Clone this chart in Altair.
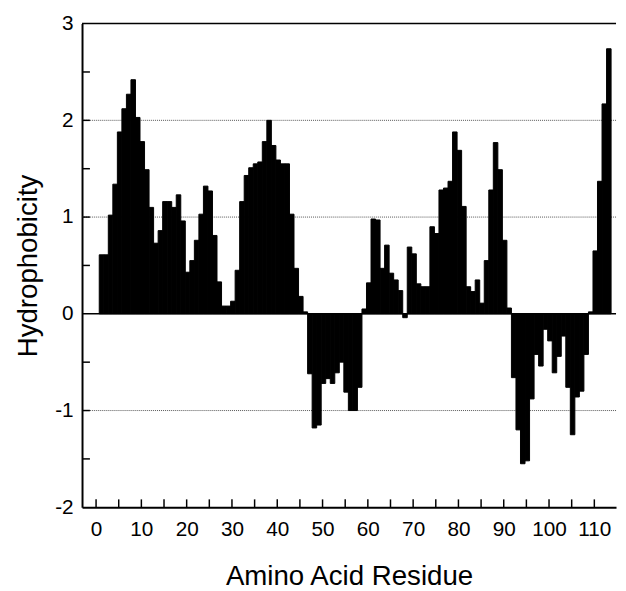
import altair as alt
import pandas as pd

# ---- data ----
residues = list(range(1, 114))
hydrophobicity = [
    0.61, 0.61, 1.02, 1.34, 1.88, 2.12, 2.27, 2.42, 2.03, 1.78,   # 1-10
    1.49, 1.10, 0.73, 0.86, 1.16, 1.16, 1.10, 1.23, 0.96, 0.43,   # 11-20
    0.55, 0.76, 1.03, 1.32, 1.27, 0.81, 0.33, 0.08, 0.08, 0.13,   # 21-30
    0.45, 1.16, 1.43, 1.51, 1.55, 1.57, 1.78, 2.00, 1.74, 1.59,   # 31-40
    1.55, 1.55, 1.03, 0.47, 0.18, 0.02, -0.62, -1.18, -1.15, -0.72,  # 41-50
    -0.67, -0.72, -0.61, -0.50, -0.81, -1.00, -1.00, -0.76, 0.05, 0.32,  # 51-60
    0.98, 0.97, 0.47, 0.71, 0.42, 0.35, 0.24, -0.04, 0.69, 0.62,  # 61-70
    0.31, 0.28, 0.28, 0.90, 0.83, 1.28, 1.30, 1.37, 1.88, 1.69,   # 71-80
    1.11, 0.28, 0.23, 0.35, 0.11, 0.55, 1.28, 1.77, 1.49, 0.76,   # 81-90
    0.06, -0.66, -1.20, -1.55, -1.52, -0.88, -0.42, -0.54, -0.16, -0.28,  # 91-100
    -0.61, -0.44, -0.23, -0.76, -1.25, -0.86, -0.80, -0.42, 0.02, 0.65,  # 101-110
    1.37, 2.17, 2.74,                                              # 111-113
]
x_label_values = list(range(0, 111, 10))
x_tick_values = list(range(0, 111, 5))
y_label_values = [-2, -1, 0, 1, 2, 3]
y_tick_values = [-1.5, -1.0, -0.5, 0.5, 1.0, 1.5, 2.0, 2.5]
grid_values = [-1, 1, 2]

df = pd.DataFrame({"residue": residues, "value": hydrophobicity})
grid_df = pd.DataFrame({"value": grid_values})
ytick_df = pd.DataFrame({"value": y_tick_values})
xtick_df = pd.DataFrame({"x0": x_tick_values})
zero_df = pd.DataFrame({"value": [0]})
top_df = pd.DataFrame({"value": [3]})

FONT = "Liberation Sans"
W, H = 541, 490

xscale = alt.Scale(domain=[-3.1, 114.79], nice=False, zero=False)
yscale = alt.Scale(domain=[-2, 3], nice=False, zero=False)

x_axis = alt.Axis(
    values=x_label_values,
    grid=False,
    ticks=False,
    domain=True,
    domainColor="black",
    domainWidth=2,
    labelFont=FONT,
    labelFontSize=21,
    labelColor="black",
    labelPadding=12,
    labelFlush=False,
    labelOverlap=False,
    labelExpr="'' + datum.value",
    title="Amino Acid Residue",
    titleFont=FONT,
    titleFontSize=28,
    titleFontWeight="normal",
    titleColor="black",
    titlePadding=23,
)
y_axis = alt.Axis(
    values=y_label_values,
    grid=False,
    ticks=False,
    domain=True,
    domainColor="black",
    domainWidth=2,
    labelFont=FONT,
    labelFontSize=21,
    labelColor="black",
    labelPadding=9,
    labelFlush=False,
    labelOverlap=False,
    labelExpr="'' + datum.value",
    title="Hydrophobicity",
    titleFont=FONT,
    titleFontSize=28,
    titleFontWeight="normal",
    titleColor="black",
    titlePadding=12,
)

Y = lambda: alt.Y("value:Q", scale=yscale, axis=y_axis)
X = lambda: alt.X("x0:Q", scale=xscale, axis=x_axis)

grid = alt.Chart(grid_df).mark_rule(color="#555555", strokeDash=[1, 1], strokeWidth=1).encode(y=Y())

bars = (
    alt.Chart(df)
    .transform_calculate(x0="datum.residue - 0.3", x1="datum.residue + 0.7", base="0")
    .mark_rect(color="black", stroke="black", strokeWidth=1)
    .encode(x=X(), x2="x1:Q", y=Y(), y2="base:Q")
)

zero_line = alt.Chart(zero_df).mark_rule(color="black", strokeWidth=1.5).encode(y=Y())
top_line = alt.Chart(top_df).mark_rule(color="black", strokeWidth=1.5).encode(y=Y())
yticks = alt.Chart(ytick_df).mark_rule(color="black", strokeWidth=1.5).encode(
    y=Y(), x=alt.value(0), x2=alt.value(8)
)
xticks = alt.Chart(xtick_df).mark_rule(color="black", strokeWidth=1.5).encode(
    x=X(), y=alt.value(H), y2=alt.value(H - 8)
)

chart = (
    alt.layer(grid, bars, zero_line, top_line, yticks, xticks)
    .properties(
        width=W,
        height=H,
        autosize=alt.AutoSizeParams(type="none"),
        padding={"left": 75, "top": 12, "right": 2, "bottom": 80},
        background="white",
    )
    .configure_view(stroke=None)
)

chart.save("out.html", embed_options={"renderer": "svg", "actions": False})
